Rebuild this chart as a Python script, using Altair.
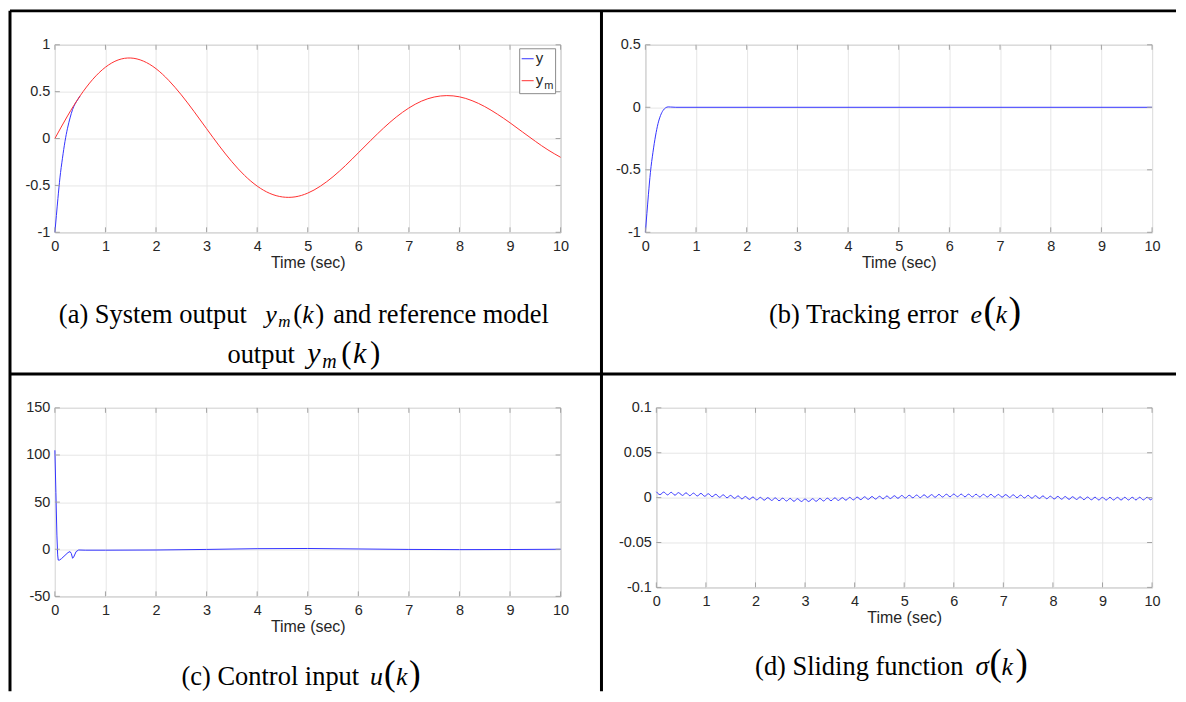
import altair as alt
import pandas as pd

# ---------------- data ----------------
# (a) reference model output y_m and system output y
ym_t = [0, 0.25, 0.5, 0.75, 1.0, 1.25, 1.5, 1.75, 2.0, 2.25, 2.5, 2.75, 3.0, 3.25,
        3.5, 3.75, 4.0, 4.25, 4.5, 4.75, 5.0, 5.25, 5.5, 5.75, 6.0, 6.25, 6.5, 6.75,
        7.0, 7.25, 7.5, 7.75, 8.0, 8.25, 8.5, 8.75, 9.0, 9.25, 9.5, 9.75, 10.0]
ym_vals = [0.0, 0.241, 0.456, 0.632, 0.761, 0.838, 0.859, 0.826, 0.745, 0.621,
           0.466, 0.290, 0.105, -0.078, -0.247, -0.393, -0.507, -0.585, -0.623,
           -0.622, -0.582, -0.508, -0.407, -0.286, -0.153, -0.018, 0.112, 0.229,
           0.326, 0.399, 0.443, 0.458, 0.445, 0.404, 0.341, 0.260, 0.168, 0.069,
           -0.029, -0.121, -0.200]
# system output y before it merges with y_m (afterwards it lies under the red curve)
y_t = [0, 0.03, 0.06, 0.1, 0.15, 0.2, 0.25, 0.3, 0.35, 0.4, 0.45, 0.5]
y_vals = [-1.0, -0.82, -0.64, -0.42, -0.21, -0.03, 0.11, 0.22, 0.31, 0.37, 0.414, 0.456]

# (b) tracking error e
e_t = [0, 0.03, 0.06, 0.1, 0.15, 0.2, 0.25, 0.3, 0.35, 0.4, 0.45, 0.5, 0.6, 10]
e_vals = [-1.0, -0.85, -0.70, -0.52, -0.36, -0.23, -0.13, -0.065, -0.025, -0.004,
          0.003, 0.002, 0.0, 0.0]

# (c) control input u
u_t = [0, 0.02, 0.04, 0.055, 0.066, 0.09, 0.13, 0.2, 0.26, 0.3, 0.325, 0.35, 0.37,
       0.42, 0.47, 0.6, 1, 2, 3, 4, 5, 6, 7, 8, 9, 10]
u_vals = [105, 60, 15, -6, -11.5, -11.5, -10, -6.5, -3.5, -2.5, -4.5, -9.6, -8.5,
          -2.5, -0.8, -1.0, -1.0, -0.8, -0.2, 0.6, 0.8, 0.3, -0.2, -0.4, -0.3, 0.0]

# (d) sliding function sigma (values in units of 1e-3, sampled every 0.075 s)
sigma_step = 0.075
sigma_milli = [6.5, 3.35, 6.2, 3.05, 5.9, 2.75, 5.6, 2.45, 5.3, 2.15, 5.0, 1.85, 4.7, 1.55,
               4.3, 1.0, 3.7, 0.4, 3.1, -0.2, 2.5, -0.8, 1.9, -1.4, 1.3, -2.0, 0.7,
               -2.55, 0.3, -2.85, 0.0, -3.15, -0.3, -3.45, -0.6, -3.75, -0.9, -4.05, -1.2, -4.35,
               -1.5, -4.35, -1.2, -4.05, -0.9, -3.75, -0.6, -3.45, -0.3, -3.15, 0.0, -2.85, 0.3, -2.55,
               0.6, -2.25, 0.9, -1.95, 1.2, -1.65, 1.5, -1.35, 1.8, -1.05, 2.1, -0.75, 2.4,
               -0.46, 2.65, -0.24, 2.88, -0.01, 3.1, 0.21, 3.33, 0.44, 3.55, 0.66, 3.78, 0.89,
               4.0, 0.96, 3.93, 0.89, 3.85, 0.81, 3.78, 0.74, 3.7, 0.66, 3.63, 0.59, 3.55, 0.51,
               3.4, 0.25, 3.1, -0.05, 2.8, -0.35, 2.5, -0.65, 2.2, -0.95, 1.9, -1.25, 1.6,
               -1.53, 1.38, -1.71, 1.2, -1.89, 1.02, -2.07, 0.84, -2.25, 0.66, -2.43, 0.48, -2.61,
               0.3, -2.69, 0.32, -2.67, 0.34, -2.64, 0.37, -2.62, 0.39, -2.6, 0.42, -2.57, 0.44, -2.54,
               -1.0]

x_ticks = [0, 1, 2, 3, 4, 5, 6, 7, 8, 9, 10]
ya_ticks = [-1, -0.5, 0, 0.5, 1]
yb_ticks = [-1, -0.5, 0, 0.5]
yc_ticks = [-50, 0, 50, 100, 150]
yd_ticks = [-0.1, -0.05, 0, 0.05, 0.1]

# ---------------- styling ----------------
SANS = "Liberation Sans"
SERIF = "Liberation Serif"
GRID = "#e6e6e6"
BOX = "#a3a3a3"
LAB = "#262626"
BLUE = "#3333ff"
RED = "#ff3030"
ONE = pd.DataFrame({"d": [0]})

sigma_t = [round(i * sigma_step, 3) for i in range(len(sigma_milli) - 1)] + [10.0]
sigma_vals = [v / 1000.0 for v in sigma_milli]


def df(t, v):
    return pd.DataFrame({"t": t, "v": v})


def make_xy(ydom, yvals):
    xaxis = alt.Axis(values=x_ticks, title="Time (sec)", grid=True, gridColor=GRID,
                     gridWidth=1, ticks=False, domain=False, labelFont=SANS,
                     labelFontSize=14.5, labelColor=LAB, labelPadding=7, labelFlush=False,
                     labelOverlap=False, titleFont=SANS, titleFontSize=16,
                     titleColor=LAB, titleFontWeight="normal", titlePadding=2)
    yaxis = alt.Axis(values=yvals, title=None, grid=True, gridColor=GRID, gridWidth=1,
                     ticks=False, domain=False, labelFont=SANS, labelFontSize=14.5,
                     labelColor=LAB, labelPadding=5, labelFlush=False, labelOverlap=False,
                     labelExpr="toString(datum.value)")
    X = alt.X("t:Q", scale=alt.Scale(domain=[0, 10], nice=False, zero=False), axis=xaxis)
    Y = alt.Y("v:Q", scale=alt.Scale(domain=ydom, nice=False, zero=False), axis=yaxis)
    return X, Y


def tick_layers(X, Y, yvals, W, H):
    xt = pd.DataFrame({"t": x_ticks})
    yt = pd.DataFrame({"v": yvals})
    r = dict(color=BOX, strokeWidth=1)
    return [
        alt.Chart(xt).mark_rule(**r).encode(x=X, y=alt.value(H), y2=alt.value(H - 5)),
        alt.Chart(xt).mark_rule(**r).encode(x=X, y=alt.value(0), y2=alt.value(5)),
        alt.Chart(yt).mark_rule(**r).encode(y=Y, x=alt.value(0), x2=alt.value(5)),
        alt.Chart(yt).mark_rule(**r).encode(y=Y, x=alt.value(W - 5), x2=alt.value(W)),
    ]


def txt(s, x, y, size, style="normal", font=SERIF, color="black"):
    return alt.Chart(ONE).mark_text(text=s, font=font, fontSize=size, fontStyle=style,
                                    align="left", baseline="alphabetic",
                                    color=color).encode(x=alt.value(x), y=alt.value(y))


def formula(x0, y0, parts):
    return [txt(s, x0 + dx, y0 + dy, size, style) for (s, dx, size, style, dy) in parts]


def line(data, X, Y, color, interp="monotone"):
    return alt.Chart(data).mark_line(color=color, strokeWidth=1,
                                     interpolate=interp).encode(x=X, y=Y)


def hrule(x1, x2, y, w=3):
    return alt.Chart(ONE).mark_rule(color="black", strokeWidth=w).encode(
        x=alt.value(x1), x2=alt.value(x2), y=alt.value(y))


def vrule(x, y1, y2, w=3):
    return alt.Chart(ONE).mark_rule(color="black", strokeWidth=w).encode(
        x=alt.value(x), y=alt.value(y1), y2=alt.value(y2))


# ---------------- panel (a) ----------------
WA, HA = 507, 188
XA, YA = make_xy([-1, 1], ya_ticks)
a_layers = [
    line(df(y_t, y_vals), XA, YA, BLUE),
    line(df(ym_t, ym_vals), XA, YA, RED, "natural"),
] + tick_layers(XA, YA, ya_ticks, WA, HA) + [
    alt.Chart(ONE).mark_rect(fill="white", stroke="#8c8c8c", strokeWidth=1).encode(
        x=alt.value(466), x2=alt.value(502), y=alt.value(4), y2=alt.value(49)),
    alt.Chart(ONE).mark_rule(color=BLUE, strokeWidth=1).encode(
        x=alt.value(468), x2=alt.value(480), y=alt.value(14)),
    alt.Chart(ONE).mark_rule(color=RED, strokeWidth=1).encode(
        x=alt.value(468), x2=alt.value(480), y=alt.value(36)),
    txt("y", 482, 18.5, 15, font=SANS, color=LAB),
    txt("y", 482, 40, 15, font=SANS, color=LAB),
    txt("m", 490.5, 44.5, 11, font=SANS, color=LAB),
    txt("(a) System output", 4, 279, 26.5),
    txt("and reference model", 279, 279, 26.5),
    txt("output", 173, 319, 26.5),
] + formula(211, 279, [("y", 0, 26, "italic", 0), ("m", 13, 17, "italic", 4),
                       ("(", 28, 27, "normal", 0), ("k", 37, 26, "italic", 0),
                       (")", 50, 27, "normal", 0)]) \
  + formula(253, 319, [("y", 0, 30, "italic", 0), ("m", 15, 20, "italic", 5),
                       ("(", 34, 31, "normal", 0), ("k", 46, 30, "italic", 0),
                       (")", 63, 31, "normal", 0)]) + [
    # outer frame and dividers of the figure
    hrule(-45, 1124, -34),
    hrule(-45, 1124, 330),
    vrule(-45, -34, 648),
    vrule(548, -34, 648),
]
panel_a = alt.layer(*a_layers).properties(width=WA, height=HA)

# ---------------- panel (b) ----------------
WB, HB = 508, 188
XB, YB = make_xy([-1, 0.5], yb_ticks)
b_layers = [line(df(e_t, e_vals), XB, YB, BLUE)] + tick_layers(XB, YB, yb_ticks, WB, HB) + [
    txt("(b) Tracking error", 124, 279, 26.5),
] + formula(326, 279, [("e", 0, 26, "italic", 0), ("(", 13, 38, "normal", 0),
                       ("k", 25, 26, "italic", 0), (")", 38, 38, "normal", 0)])
panel_b = alt.layer(*b_layers).properties(width=WB, height=HB)

# ---------------- panel (c) ----------------
WC, HC = 507, 189
XC, YC = make_xy([-50, 150], yc_ticks)
c_layers = [line(df(u_t, u_vals), XC, YC, BLUE, "linear")] + tick_layers(XC, YC, yc_ticks, WC, HC) + [
    txt("(c) Control input", 127, 278, 26.5),
] + formula(316, 278, [("u", 0, 26, "italic", 0), ("(", 14, 35, "normal", 0),
                       ("k", 26, 26, "italic", 0), (")", 39, 35, "normal", 0)])
panel_c = alt.layer(*c_layers).properties(width=WC, height=HC)

# ---------------- panel (d) ----------------
WD, HD = 497, 180
XD, YD = make_xy([-0.1, 0.1], yd_ticks)
d_layers = [line(df(sigma_t, sigma_vals), XD, YD, BLUE)] + tick_layers(XD, YD, yd_ticks, WD, HD) + [
    txt("(d) Sliding function", 99, 268, 26.5),
] + formula(320, 268, [("σ", 0, 27, "italic", 0), ("(", 14, 37, "normal", 0),
                       ("k", 26, 26, "italic", 0), (")", 40, 37, "normal", 0)])
panel_d = alt.layer(*d_layers).properties(width=WD, height=HD)

row1 = alt.hconcat(panel_a, panel_b, spacing=85, bounds="flush")
row2 = alt.hconcat(panel_c, panel_d, spacing=96, bounds="flush")
# nested flush rows report no height, so the row gap includes row 1's plot height
chart = alt.vconcat(row1, row2, spacing=364, bounds="flush").configure_view(
    stroke=BOX, strokeWidth=1).properties(
    padding={"left": 0, "top": 0, "right": 0, "bottom": 0}, background="white")

chart.save("out.html", embed_options={"renderer": "svg", "actions": False})
